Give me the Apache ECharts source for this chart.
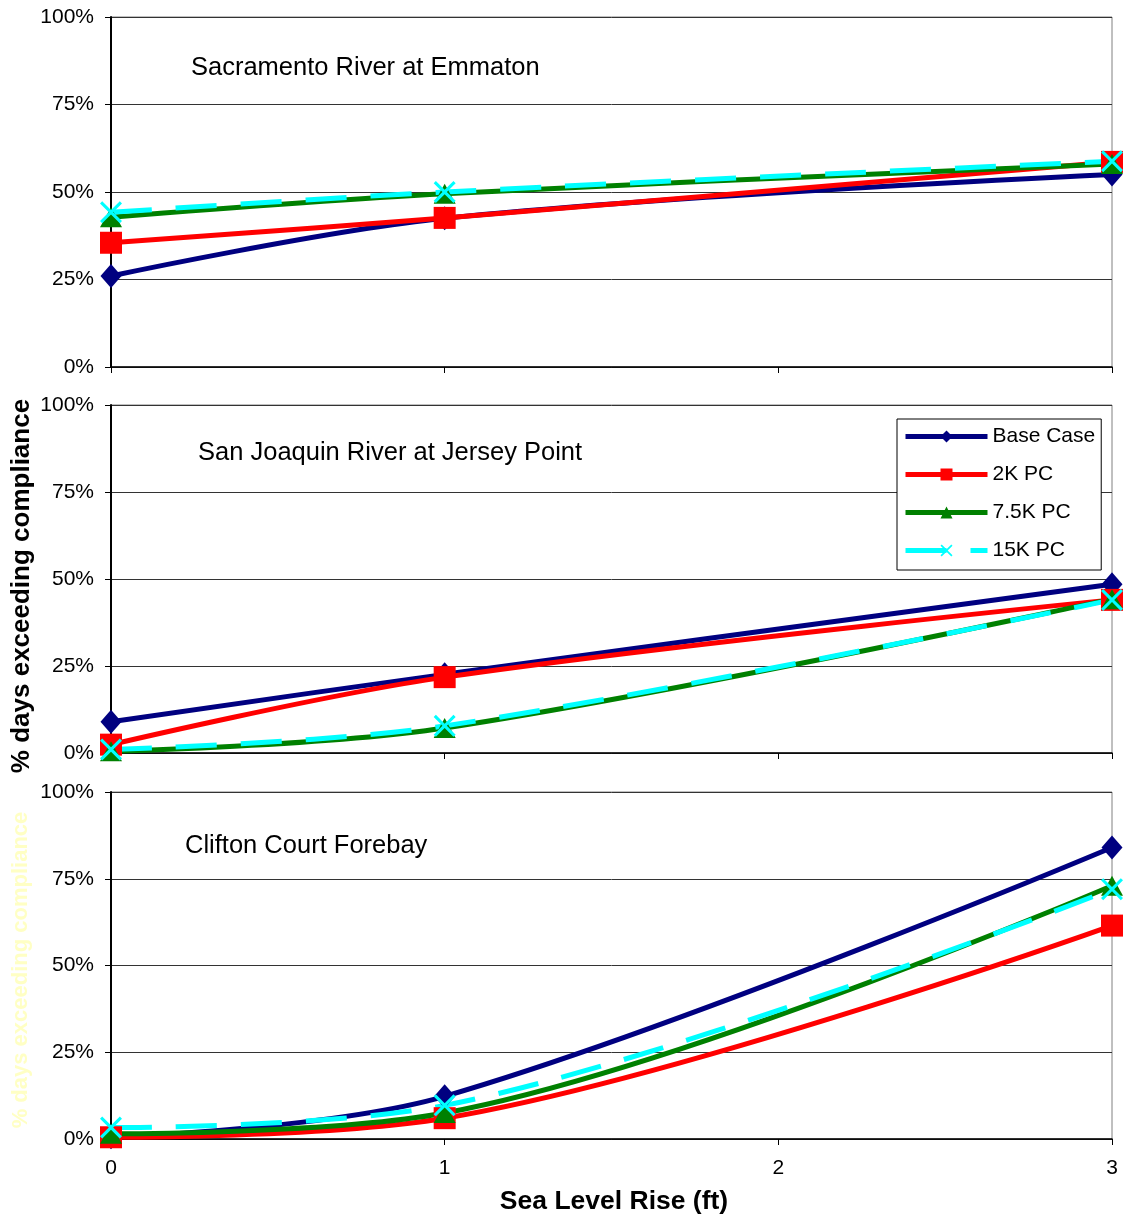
<!DOCTYPE html>
<html>
<head>
<meta charset="utf-8">
<script src="https://cdn.jsdelivr.net/npm/echarts@6/dist/echarts.min.js"></script>
<style>
  html, body { margin: 0; padding: 0; background: #ffffff; }
  #chart { width: 1124px; height: 1220px; }
</style>
</head>
<body>
<div id="chart"></div>
<script>
// Sea level rise scenarios (ft)
const seaLevelRise = [0, 1, 3];
const xTickValues = [0, 1, 2, 3];
const percentTicks = [0, 25, 50, 75, 100];

const panelTitles = ['Sacramento River at Emmaton', 'San Joaquin River at Jersey Point', 'Clifton Court Forebay'];
const seriesNames = ['Base Case', '2K PC', '7.5K PC', '15K PC'];

// % days exceeding compliance at each station
const emmatonBase = [26, 42.5, 55];
const emmaton2K   = [35.5, 42.6, 58.6];
const emmaton75K  = [42.8, 49.5, 58];
const emmaton15K  = [44.2, 50, 58.8];

const jerseyBase = [9, 22.6, 48.5];
const jersey2K   = [2.4, 21.8, 44];
const jersey75K  = [0.5, 7.2, 44.2];
const jersey15K  = [1, 7.8, 44];

const cliftonBase = [0.5, 12.3, 84];
const clifton2K   = [0.5, 6, 61.5];
const clifton75K  = [1.5, 7.5, 73];
const clifton15K  = [3.3, 9.7, 72];

const stationValues = [
  [emmatonBase, emmaton2K, emmaton75K, emmaton15K],
  [jerseyBase, jersey2K, jersey75K, jersey15K],
  [cliftonBase, clifton2K, clifton75K, clifton15K]
];

const FONT = '"Liberation Sans", Arial, sans-serif';
const colors = ['#000080', '#FF0000', '#008000', '#00FFFF'];
const crossPath = 'path://M0,1L1,0L5,4L9,0L10,1L6,5L10,9L9,10L5,6L1,10L0,9L4,5Z';
const symbols = ['diamond', 'rect', 'triangle', crossPath];
const symbolSizes = [[21, 24], [22, 22], [22, 20], [22, 22]];
const lineTypes = ['solid', 'solid', 'solid', [41, 24]];

const gridTops = [17, 405, 792];
const gridHeights = [350, 348, 347];

const grids = gridTops.map((top, i) => ({
  left: 111, right: 12, top: top, height: gridHeights[i],
  show: true, borderColor: '#808080', borderWidth: 1, backgroundColor: 'transparent'
}));

const xAxes = gridTops.map((_, i) => ({
  gridIndex: i, type: 'value', min: xTickValues[0], max: xTickValues[xTickValues.length - 1], interval: 1,
  axisLine: { show: true, lineStyle: { color: '#000', width: 1.5 } },
  axisTick: { show: true, length: 6, lineStyle: { color: '#000', width: 1 } },
  axisLabel: { show: i === 2, margin: 19, fontFamily: FONT, fontSize: 21, color: '#000' },
  splitLine: { show: false }
}));

const yAxes = gridTops.map((_, i) => ({
  gridIndex: i, type: 'value', min: percentTicks[0], max: percentTicks[percentTicks.length - 1], interval: 25,
  axisLine: { show: true, lineStyle: { color: '#000', width: 2 } },
  axisTick: { show: true, length: 6, lineStyle: { color: '#000', width: 1 } },
  axisLabel: { formatter: '{value}%', margin: 17, fontFamily: FONT, fontSize: 21, color: '#000' },
  splitLine: { show: true, lineStyle: { color: '#333333', width: 1 } }
}));

const series = [];
stationValues.forEach((group, g) => {
  group.forEach((vals, s) => {
    series.push({
      name: seriesNames[s],
      type: 'line',
      xAxisIndex: g, yAxisIndex: g,
      data: seaLevelRise.map((x, k) => [x, vals[k]]),
      smooth: 0.35,
      symbol: symbols[s],
      symbolSize: symbolSizes[s],
      showAllSymbol: true,
      clip: false,
      lineStyle: { color: colors[s], width: 5, type: lineTypes[s] },
      itemStyle: { color: colors[s], borderWidth: 0 },
      emphasis: { disabled: true },
      animation: false
    });
  });
});

const titleX = [191, 198, 185];
const titleY = [68, 453, 846];
const graphics = panelTitles.map((t, i) => ({
  type: 'text', x: titleX[i], y: titleY[i],
  style: { text: t, font: '25.5px ' + FONT, fill: '#000', align: 'left', verticalAlign: 'middle' }
}));
graphics.push({
  type: 'text', x: 22, y: 586, rotation: Math.PI / 2,
  style: { text: '% days exceeding compliance', font: 'bold 26px ' + FONT, fill: '#000', align: 'center', verticalAlign: 'middle' }
});
graphics.push({
  type: 'text', x: 21, y: 970, rotation: Math.PI / 2,
  style: { text: '% days exceeding compliance', font: 'bold 22px ' + FONT, fill: '#FFFFC4', align: 'center', verticalAlign: 'middle' }
});
graphics.push({
  type: 'text', x: 614, y: 1202,
  style: { text: 'Sea Level Rise (ft)', font: 'bold 26.5px ' + FONT, fill: '#000', align: 'center', verticalAlign: 'middle' }
});

const chart = echarts.init(document.getElementById('chart'), null, { renderer: 'canvas' });
chart.setOption({
  backgroundColor: '#ffffff',
  animation: false,
  grid: grids,
  xAxis: xAxes,
  yAxis: yAxes,
  legend: {
    orient: 'vertical', left: 897, top: 419,
    itemWidth: 82, itemHeight: 15, itemGap: 17,
    padding: [7, 6, 9, 6],
    borderColor: '#000', borderWidth: 1, backgroundColor: '#ffffff',
    lineStyle: { width: 5 },
    textStyle: { fontFamily: FONT, fontSize: 21, color: '#000', lineHeight: 21 },
    data: seriesNames,
    selectedMode: false
  },
  graphic: graphics,
  series: series
});
</script>
</body>
</html>
